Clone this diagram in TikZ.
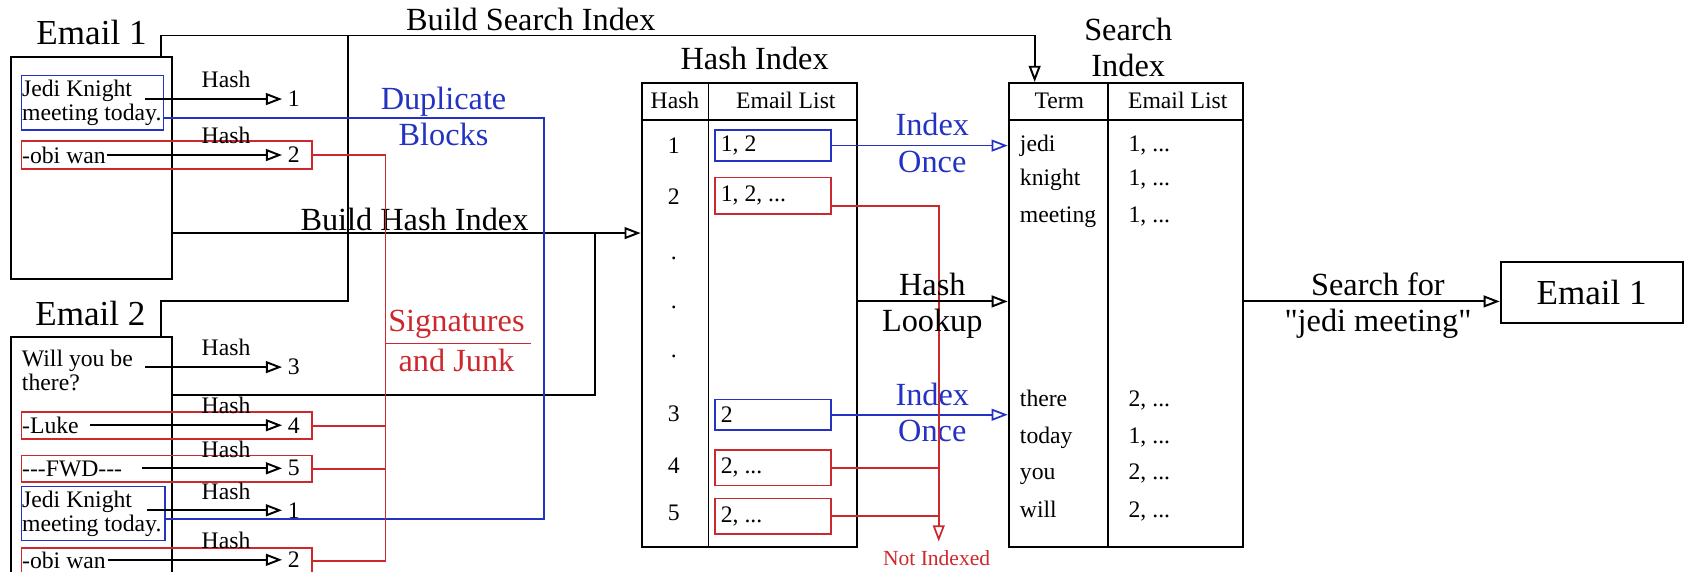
\documentclass[tikz,border=0pt]{standalone}
\usepackage{fontspec}
\setmainfont{Liberation Serif}
\usepackage{tikz}
\usetikzlibrary{positioning,arrows.meta,fit,calc}
\definecolor{cdup}{RGB}{35,50,195}
\definecolor{cjunk}{RGB}{205,40,45}
\tikzset{
  wire/.style={line width=0.9pt, black},
  flow/.style={wire, -{Triangle[open, length=7.5pt, width=5.5pt]}},
  bwire/.style={line width=0.8pt, draw=cdup},
  bflow/.style={bwire, -{Triangle[open, length=7.5pt, width=5.5pt]}},
  rwire/.style={line width=0.8pt, draw=cjunk},
  rflow/.style={rwire, -{Triangle[open, length=7.5pt, width=5.5pt]}},
  mailbox/.style={draw, line width=0.9pt, inner sep=0pt},
  tablebox/.style={draw, line width=0.9pt, inner sep=0pt},
  blk/.style={draw=#1, line width=0.8pt, inner sep=0pt},
  bigtxt/.style={font=\fontsize{16.3}{18}\selectfont, inner sep=0pt},
  lbl/.style={font=\fontsize{15}{17}\selectfont, align=center, inner sep=0pt},
  smtxt/.style={font=\fontsize{11}{11}\selectfont, inner sep=0.5pt},
  cell/.style={font=\fontsize{11}{11}\selectfont, inner sep=0pt, text height=8pt, text depth=2.5pt},
  tinytxt/.style={font=\fontsize{10}{11}\selectfont, inner sep=0pt},
}

\begin{document}
\begin{tikzpicture}[x=0.5pt, y=-0.5pt]
\useasboundingbox (0,0) rectangle (1568,531);

% emails
\node[mailbox, fit={(10,53) (160,259)}] (em1) {};
\node[mailbox, fit={(10,313) (160,545)}] (em2) {};
\node[bigtxt] (em1t) at (85,30) {Email 1};
\node[bigtxt] (em2t) at (84,291) {Email 2};

\node[blk=cdup, fit={(20,70) (152,121)}] (bj1) {};
\node[smtxt, anchor=west, align=left] (tj1) at (bj1.west) {Jedi Knight\\meeting today.};
\node[blk=cjunk, fit={(20,131) (290,157)}] (ro1) {};
\node[smtxt, anchor=west] (to1) at (ro1.west) {-obi wan};

\node[smtxt, anchor=west, align=left] (ew2) at (19,344) {Will you be\\there?};
\node[blk=cjunk, fit={(20,383) (290,408)}] (rl2) {};
\node[smtxt, anchor=west] (el2t) at (rl2.west) {-Luke};
\node[blk=cjunk, fit={(20,423) (290,448)}] (rf2) {};
\node[smtxt, anchor=west] (ef2t) at (rf2.west) {-{}-{}-FWD-{}-{}-};
\node[blk=cdup, fit={(20,452) (153,502)}] (bj2) {};
\node[smtxt, anchor=west, align=left] (tj2) at (bj2.west) {Jedi Knight\\meeting today.};
\node[blk=cjunk, fit={(20,509) (290,533)}] (ro2) {};
\node[smtxt, anchor=west] (to2) at (ro2.west) {-obi wan};

\foreach \sx/\yy/\hv [count=\i] in {135/92/1, 99/144/2, 135/341/3, 84/395/4, 132/435/5, 137/474/1, 100/520/2}{
  \coordinate (hs\i) at (\sx,\yy);
  \node[smtxt, anchor=west] (hv\i) at (266,\yy) {\hv};
  \node[smtxt] (hl\i) at (210,\yy-18) {Hash};
  \draw[flow] (hs\i) -- ([xshift=-2pt]hv\i.west);
}

% tables
\node[tablebox, fit={(596,77) (796,508)}] (htab) {};
\draw[wire] ([yshift=-17.5pt]htab.north west) -- ([yshift=-17.5pt]htab.north east);
\draw[wire] ([xshift=31.5pt]htab.north west) -- ([xshift=31.5pt]htab.south west);
\node[lbl] (htabt) at (701,54) {Hash Index};
\node[cell] (hhd) at (627,95) {Hash};
\node[cell] (ehd) at (730,95) {Email List};
\foreach \key/\yy [count=\i] in {1/135, 2/183, ./240, ./286, ./331, 3/384, 4/433, 5/476}
  \node[smtxt] (hk\i) at (626,\yy) {\key};
\foreach \cl/\ya/\yb/\lst [count=\i] in {cdup/121/149.5/{1, 2}, cjunk/165/199/{1, 2, ...}, cdup/371/399.5/2, cjunk/418/451/{2, ...}, cjunk/463/496/{2, ...}}{
  \node[blk=\cl, fit={(664,\ya) (772,\yb)}] (el\i) {};
  \node[smtxt, anchor=west] (elt\i) at ([xshift=2.5pt]el\i.west) {\lst};
}

\node[tablebox, fit={(937,77) (1155,508)}] (stab) {};
\draw[wire] ([yshift=-17.5pt]stab.north west) -- ([yshift=-17.5pt]stab.north east);
\draw[wire] ([xshift=46.5pt]stab.north west) -- ([xshift=46.5pt]stab.south west);
\node[lbl] (stabt) at (1048,44) {Search\\Index};
\node[cell] (thd) at (984,95) {Term};
\node[cell] (lhd) at (1094,95) {Email List};
\foreach \term/\lst/\yy [count=\i] in {jedi/{1, ...}/135, knight/{1, ...}/167, meeting/{1, ...}/201, there/{2, ...}/372, today/{1, ...}/406, you/{2, ...}/440, will/{2, ...}/475}{
  \node[cell, anchor=west] (sw\i) at (947,\yy) {\term};
  \node[cell, anchor=west] (sl\i) at (1048,\yy) {\lst};
}

\node[mailbox, fit={(1394,243) (1563,300)}] (res) {};
\node[bigtxt] (rest) at (res) {Email 1};

% connectors
\coordinate (bs) at (323,33);
\coordinate (bj) at (323,280);
\draw[flow] ([xshift=-5.5pt]em1.north east) |- (bs) -| ([xshift=12.5pt]stab.north west);
\draw[wire] ([xshift=-5.5pt]em2.north east) |- (bj) -- (bs);
\node[lbl] (bsit) at (493,18) {Build Search Index};

\coordinate (hj) at (553,216.5);
\coordinate (hb) at (553,367);
\draw[flow] (em1.east |- hj) -- (htab.west |- hj);
\draw[wire] (em2.east |- hb) -- (hb) -- (hj);
\node[lbl] (bhit) at (385,204) {Build Hash Index};

\coordinate (dj) at (505,300);
\draw[bwire] ([yshift=-7pt]bj1.east) -| (dj) |- ([yshift=-2.5pt]bj2.east);
\node[lbl, text=cdup] (dupt) at (412,108) {Duplicate\\Blocks};

\coordinate (sj) at (358,319);
\coordinate (sje) at (493,319);
\foreach \b in {ro1,rl2,rf2,ro2} \draw[rwire] (\b.east) -| (sj);
\draw[rwire] (sj) -- (sje);
\node[lbl, text=cjunk] (sigt) at (424,301) {Signatures};
\node[lbl, text=cjunk] (junkt) at (424,335) {and Junk};

\draw[bflow] (el1.east) -- (stab.west |- el1.east);
\draw[bflow] (el3.east) -- (stab.west |- el3.east);
\node[lbl, text=cdup] (io1) at (866,133) {Index\\Once};
\node[lbl, text=cdup] (io2) at (866,383) {Index\\Once};

\coordinate (nt) at (872,503);
\draw[rflow] ([yshift=-4.75pt]el2.east) -| (nt);
\draw[rwire] (el4.east) -- (el4.east -| nt);
\draw[rwire] (el5.east) -- (el5.east -| nt);
\node[tinytxt, text=cjunk] (nit) at (870,518) {Not Indexed};

\coordinate (lk) at (866,280);
\draw[flow] (htab.east |- lk) -- (stab.west |- lk);
\node[lbl] (lkt) at (866,284) {Hash\\Lookup};

\coordinate (sr) at (1280,280);
\draw[flow] (stab.east |- sr) -- (res.west |- sr);
\node[lbl] (srt) at (1280,284) {Search for\\\textquotedbl jedi meeting\textquotedbl};
\end{tikzpicture}
\end{document}
